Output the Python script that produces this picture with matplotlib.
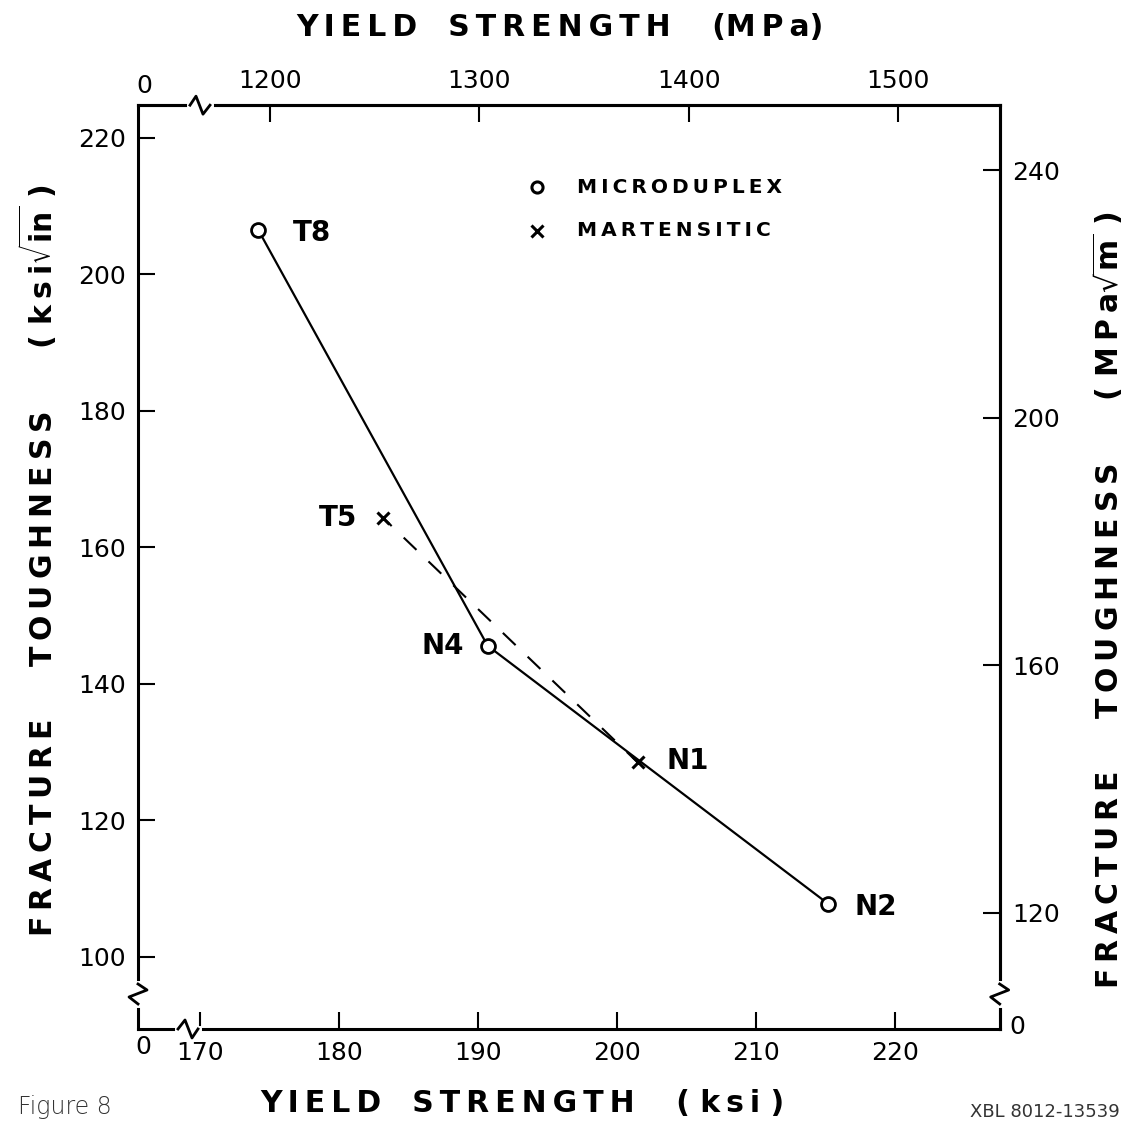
"""Fracture toughness vs yield strength (Figure 8)"""

import matplotlib.pyplot as plt
from matplotlib.lines import Line2D

# microduplex steels (open circles, solid line)
micro_names = ['T8', 'N4', 'N2']
micro_ys = [174.2, 190.7, 215.2]
micro_kic = [206.5, 145.6, 107.8]

# martensitic steels (crosses, dashed line)
mart_names = ['T5', 'N1']
mart_ys = [183.2, 201.5]
mart_kic = [164.3, 128.5]

ksi_ticks = [170, 180, 190, 200, 210, 220]
mpa_ticks = [1200, 1300, 1400, 1500]
kic_ticks = [100, 120, 140, 160, 180, 200, 220]
mpam_ticks = [120, 160, 200, 240]


def ksi2mpa(k):
    return 37.7 + 6.640 * k


def mpa2ksi(m):
    return (m - 37.7) / 6.640


def kic2si(k):
    return 2.63 + 1.1026 * k


def si2kic(r):
    return (r - 2.63) / 1.1026


def spaced(s):
    """Letter-spaced lettering like the hand-drawn labels"""
    return '\u2009'.join(s)


def main():
    plt.rcParams['font.family'] = ['DejaVu Sans']
    plt.rcParams['mathtext.fontset'] = 'dejavusans'

    fig = plt.figure(figsize=(11.36, 11.31), dpi=100)
    ax = fig.add_axes([0.1215, 0.0902, 0.7585, 0.8168])
    ax.set_xlim(165.54, 227.55)
    ax.set_ylim(89.45, 224.8)

    ax.plot(micro_ys, micro_kic, color='k', lw=1.6, zorder=2)
    ax.plot(mart_ys, mart_kic, color='k', lw=1.5, ls=(3, (8.5, 8)), zorder=2)
    ax.plot(micro_ys, micro_kic, ls='none', marker='o', ms=10, mfc='white',
            mec='k', mew=2, zorder=3)
    ax.plot(mart_ys, mart_kic, ls='none', marker='x', ms=9, mec='k',
            mew=2.2, zorder=3)

    offsets = {'T8': (25, -2, 'left'), 'N4': (-17, 0, 'right'),
               'N2': (19, -2, 'left'), 'T5': (-19, 0, 'right'),
               'N1': (21, 1, 'left')}
    for names, xs, ys in [(micro_names, micro_ys, micro_kic),
                          (mart_names, mart_ys, mart_kic)]:
        for n, x, y in zip(names, xs, ys):
            dx, dy, ha = offsets[n]
            ax.annotate(n, (x, y), xytext=(dx, dy), textcoords='offset points',
                        ha=ha, va='center', fontsize=20, fontweight='bold')

    # legend drawn by hand like the original
    ax.plot([0.463], [0.911], transform=ax.transAxes, marker='o', ms=8,
            mfc='white', mec='k', mew=2.2, clip_on=False)
    ax.plot([0.463], [0.864], transform=ax.transAxes, marker='x', ms=8,
            mec='k', mew=2.2, clip_on=False)
    ax.text(0.51, 0.911, spaced('MICRODUPLEX'), transform=ax.transAxes,
            fontsize=14.5, fontweight='bold', va='center')
    ax.text(0.51, 0.864, spaced('MARTENSITIC'), transform=ax.transAxes,
            fontsize=14.5, fontweight='bold', va='center')

    ax.set_xticks(ksi_ticks)
    ax.set_yticks(kic_ticks)
    ax.tick_params(direction='in', length=12, width=1.5, labelsize=18,
                   pad=9)
    for s in ax.spines.values():
        s.set_linewidth(2.2)

    top = ax.secondary_xaxis('top', functions=(ksi2mpa, mpa2ksi))
    top.set_xticks(mpa_ticks)
    top.tick_params(direction='in', length=12, width=1.5, labelsize=18,
                    pad=9)
    top.spines['top'].set_linewidth(2.2)

    right = ax.secondary_yaxis('right', functions=(kic2si, si2kic))
    right.set_yticks(mpam_ticks)
    right.tick_params(direction='in', length=12, width=1.5, labelsize=18,
                      pad=9)
    right.spines['right'].set_linewidth(2.2)

    # axis break marks
    tr = ax.transAxes
    w, h = 862.0, 924.0
    breaks = [
        ([52 / w, 72 / w], [1, 1],
         [52 / w, 58 / w, 65 / w, 72 / w], [1, 1 + 9 / h, 1 - 9 / h, 1]),
        ([40 / w, 60 / w], [0, 0],
         [40 / w, 47 / w, 54 / w, 60 / w], [0, 9 / h, -9 / h, 0]),
        ([0, 0], [25 / h, 45 / h],
         [0, -9 / w, 9 / w, 0], [25 / h, 32 / h, 39 / h, 45 / h]),
        ([1, 1], [25 / h, 45 / h],
         [1, 1 - 9 / w, 1 + 9 / w, 1], [25 / h, 32 / h, 39 / h, 45 / h]),
    ]
    for wx, wy, zx, zy in breaks:
        fig.add_artist(Line2D(wx, wy, transform=tr, color='white', lw=5,
                              zorder=5))
        fig.add_artist(Line2D(zx, zy, transform=tr, color='k', lw=2,
                              zorder=6))

    fig.text(144 / 1136, 1 - 86 / 1131, '0', fontsize=18, ha='center',
             va='center')
    fig.text(143 / 1136, 1 - 1047 / 1131, '0', fontsize=18, ha='center',
             va='center')
    fig.text(1017 / 1136, 1 - 1027 / 1131, '0', fontsize=18, ha='center',
             va='center')

    gap = '   '
    vgap = '     '
    top_lbl = (spaced('YIELD') + gap + spaced('STRENGTH') + gap + ' ('
               + spaced('MPa') + ')')
    bot_lbl = (spaced('YIELD') + gap + spaced('STRENGTH') + gap + ' ( '
               + spaced('ksi') + ' )')
    left_lbl = (spaced('FRACTURE') + vgap + spaced('TOUGHNESS') + vgap
                + ' ( ' + spaced('ksi') + r'$\sqrt{\mathbf{in}}$ )')
    right_lbl = (spaced('FRACTURE') + vgap + spaced('TOUGHNESS') + vgap
                 + ' ( ' + spaced('MPa') + r'$\sqrt{\mathbf{m}}$ )')
    fig.text(560 / 1136, 1 - 28 / 1131, top_lbl, fontsize=21.5,
             fontweight='bold', ha='center', va='center')
    fig.text(522 / 1136, 1 - 1103 / 1131, bot_lbl, fontsize=21.5,
             fontweight='bold', ha='center', va='center')
    fig.text(38 / 1136, 1 - 560 / 1131, left_lbl, fontsize=21.5,
             fontweight='bold', rotation=90, ha='center', va='center')
    fig.text(1108 / 1136, 1 - 600 / 1131, right_lbl, fontsize=21.5,
             fontweight='bold', rotation=90, ha='center', va='center')

    fig.text(18 / 1136, 1 - 1107 / 1131, 'Figure 8', fontsize=17,
             fontweight='light', color='#333333', ha='left', va='center')
    fig.text(1120 / 1136, 1 - 1112 / 1131, 'XBL 8012-13539', fontsize=13,
             color='#333333', ha='right', va='center')

    fig.savefig('out.png', dpi=100)


if __name__ == "__main__":
    main()
